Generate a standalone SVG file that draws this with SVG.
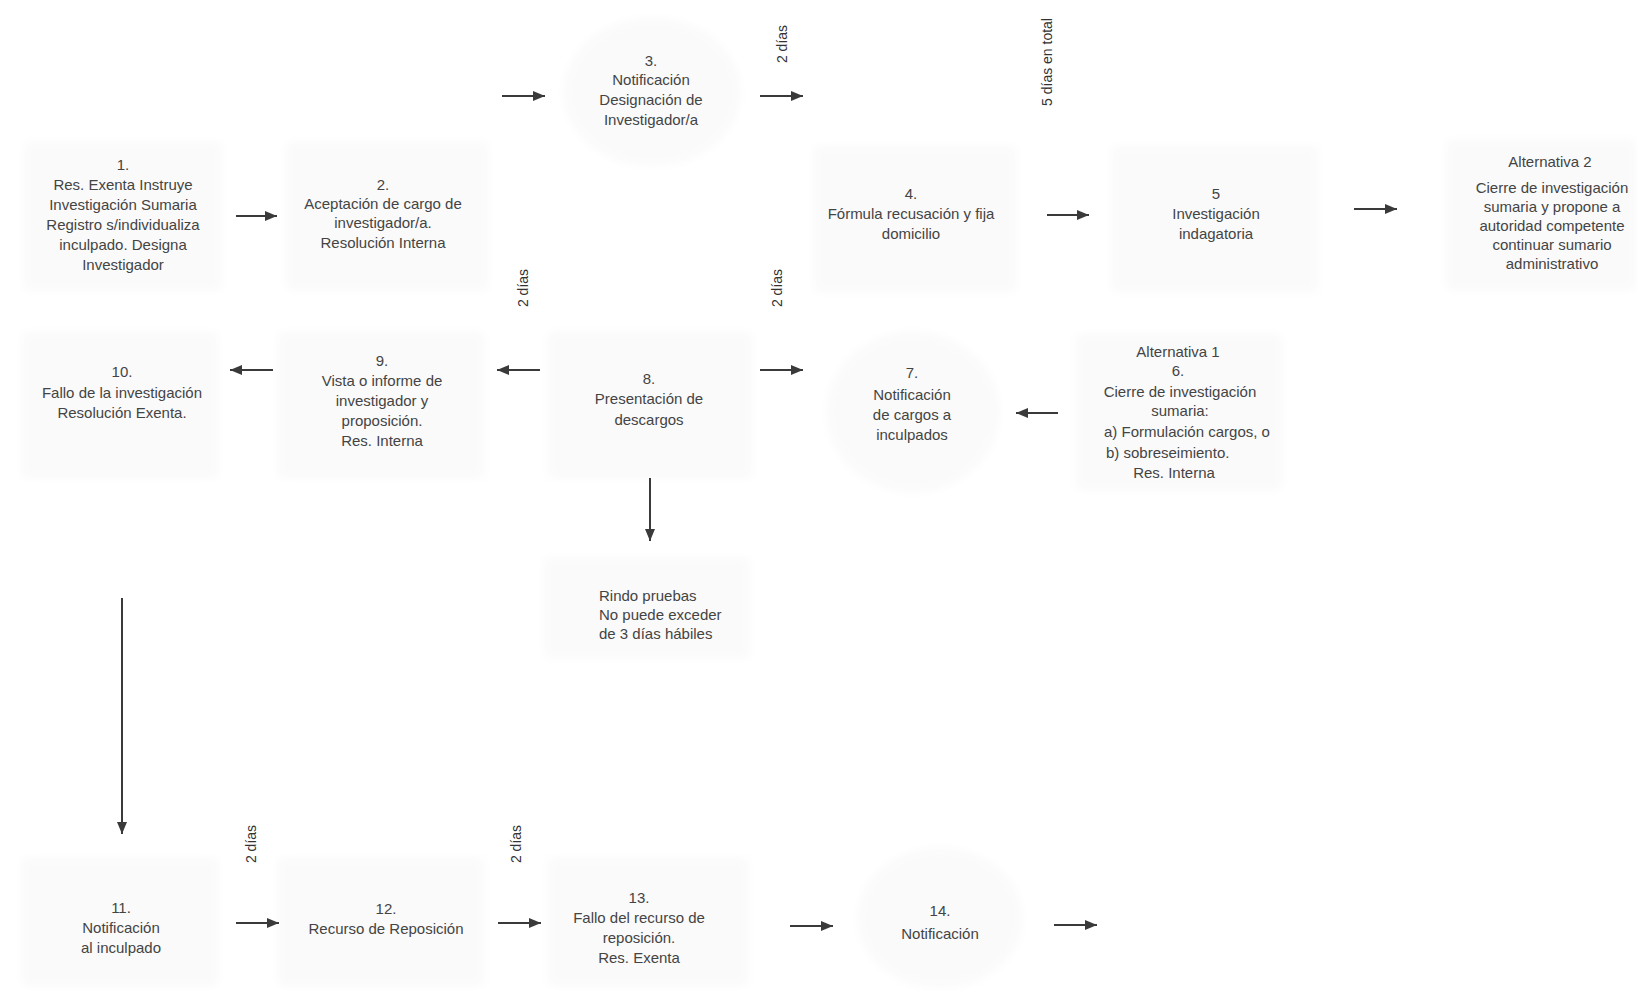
<svg xmlns="http://www.w3.org/2000/svg" width="1637" height="991" viewBox="0 0 1637 991">
<defs>
<style>
.t{font-family:"Liberation Sans",Arial,sans-serif;font-size:15px;fill:#444;text-anchor:middle}
.ts{font-family:"Liberation Sans",Arial,sans-serif;font-size:15px;fill:#444;text-anchor:start}
.v{font-family:"Liberation Sans",Arial,sans-serif;font-size:14px;fill:#333;text-anchor:middle}
.bg{fill:#fafafa;filter:url(#soft)}
.c{stroke:#3a3a3a;stroke-width:2;fill:none;marker-end:url(#ah)}
</style>
<filter id="soft" x="-20%" y="-20%" width="140%" height="140%"><feGaussianBlur stdDeviation="5"/></filter>
<marker id="ah" markerUnits="userSpaceOnUse" markerWidth="12" markerHeight="10" refX="12" refY="5" orient="auto"><path d="M0,0 L12,5 L0,10 z" fill="#3a3a3a"/></marker>
</defs>
<rect width="1637" height="991" fill="#ffffff"/>

<g id="node1"><rect class="bg" x="24" y="142" width="198" height="148"/>
<text class="t" x="123"><tspan x="123" y="170">1.</tspan><tspan x="123" y="190">Res. Exenta Instruye</tspan><tspan x="123" y="210">Investigación Sumaria</tspan><tspan x="123" y="230">Registro s/individualiza</tspan><tspan x="123" y="250">inculpado. Designa</tspan><tspan x="123" y="270">Investigador</tspan></text></g>

<g id="node2"><rect class="bg" x="286" y="142" width="202" height="148"/>
<text class="t"><tspan x="383" y="190">2.</tspan><tspan x="383" y="209">Aceptación de cargo de</tspan><tspan x="383" y="228">investigador/a.</tspan><tspan x="383" y="248">Resolución  Interna</tspan></text></g>

<g id="node3"><ellipse class="bg" cx="652" cy="92" rx="88" ry="74"/>
<text class="t"><tspan x="651" y="66">3.</tspan><tspan x="651" y="85">Notificación</tspan><tspan x="651" y="105">Designación de</tspan><tspan x="651" y="125">Investigador/a</tspan></text></g>

<g id="node4"><rect class="bg" x="814" y="146" width="202" height="146"/>
<text class="t"><tspan x="911" y="199">4.</tspan><tspan x="911" y="219">Fórmula recusación y fija</tspan><tspan x="911" y="239">domicilio</tspan></text></g>

<g id="node5"><rect class="bg" x="1112" y="146" width="206" height="146"/>
<text class="t"><tspan x="1216" y="199">5</tspan><tspan x="1216" y="219">Investigación</tspan><tspan x="1216" y="239">indagatoria</tspan></text></g>

<g id="alt2"><rect class="bg" x="1446" y="140" width="190" height="150"/>
<text class="t"><tspan x="1550" y="167">Alternativa  2</tspan><tspan x="1552" y="193">Cierre de investigación</tspan><tspan x="1552" y="212">sumaria y propone a</tspan><tspan x="1552" y="231">autoridad competente</tspan><tspan x="1552" y="250">continuar sumario</tspan><tspan x="1552" y="269">administrativo</tspan></text></g>

<g id="node10"><rect class="bg" x="22" y="332" width="196" height="146"/>
<text class="t"><tspan x="122" y="377">10.</tspan><tspan x="122" y="398">Fallo de la investigación</tspan><tspan x="122" y="418">Resolución Exenta.</tspan></text></g>

<g id="node9"><rect class="bg" x="278" y="332" width="206" height="146"/>
<text class="t"><tspan x="382" y="366">9.</tspan><tspan x="382" y="386">Vista o informe de</tspan><tspan x="382" y="406">investigador y</tspan><tspan x="382" y="426">proposición.</tspan><tspan x="382" y="446">Res. Interna</tspan></text></g>

<g id="node8"><rect class="bg" x="548" y="332" width="204" height="146"/>
<text class="t"><tspan x="649" y="384">8.</tspan><tspan x="649" y="404">Presentación de</tspan><tspan x="649" y="425">descargos</tspan></text></g>

<g id="node7"><ellipse class="bg" cx="913" cy="412" rx="86" ry="80"/>
<text class="t"><tspan x="912" y="378">7.</tspan><tspan x="912" y="400">Notificación</tspan><tspan x="912" y="420">de cargos a</tspan><tspan x="912" y="440">inculpados</tspan></text></g>

<g id="alt1"><rect class="bg" x="1076" y="334" width="206" height="156"/>
<text class="t"><tspan x="1178" y="357">Alternativa 1</tspan><tspan x="1178" y="376">6.</tspan><tspan x="1180" y="397">Cierre de investigación</tspan><tspan x="1180" y="416">sumaria:</tspan></text>
<text class="ts"><tspan x="1104" y="437">a) Formulación cargos, o</tspan><tspan x="1106" y="458">b) sobreseimiento.</tspan></text>
<text class="t"><tspan x="1174" y="478">Res.  Interna</tspan></text></g>

<g id="pruebas"><rect class="bg" x="544" y="558" width="206" height="100"/>
<text class="ts"><tspan x="599" y="601">Rindo pruebas</tspan><tspan x="599" y="620">No puede exceder</tspan><tspan x="599" y="639">de 3 días hábiles</tspan></text></g>

<g id="node11"><rect class="bg" x="22" y="858" width="196" height="128"/>
<text class="t"><tspan x="121" y="913">11.</tspan><tspan x="121" y="933">Notificación</tspan><tspan x="121" y="953">al inculpado</tspan></text></g>

<g id="node12"><rect class="bg" x="278" y="858" width="206" height="128"/>
<text class="t"><tspan x="386" y="914">12.</tspan><tspan x="386" y="934">Recurso de Reposición</tspan></text></g>

<g id="node13"><rect class="bg" x="548" y="858" width="200" height="128"/>
<text class="t"><tspan x="639" y="903">13.</tspan><tspan x="639" y="923">Fallo del recurso de</tspan><tspan x="639" y="943">reposición.</tspan><tspan x="639" y="963">Res. Exenta</tspan></text></g>

<g id="node14"><ellipse class="bg" cx="940" cy="918" rx="82" ry="70"/>
<text class="t"><tspan x="940" y="916">14.</tspan><tspan x="940" y="939">Notificación</tspan></text></g>

<g id="labels">
<text class="v" transform="translate(787,44) rotate(-90)">2 días</text>
<text class="v" transform="translate(1052,62) rotate(-90)">5 días en total</text>
<text class="v" transform="translate(528,288) rotate(-90)">2 días</text>
<text class="v" transform="translate(782,288) rotate(-90)">2 días</text>
<text class="v" transform="translate(256,844) rotate(-90)">2 días</text>
<text class="v" transform="translate(521,844) rotate(-90)">2 días</text>
</g>

<g id="connectors">
<path class="c" d="M236,216 H277"/>
<path class="c" d="M502,96 H545"/>
<path class="c" d="M760,96 H803"/>
<path class="c" d="M1047,215 H1089"/>
<path class="c" d="M1354,209 H1397"/>
<path class="c" d="M540,370 H497"/>
<path class="c" d="M273,370 H230"/>
<path class="c" d="M760,370 H803"/>
<path class="c" d="M1058,413 H1016"/>
<path class="c" d="M650,478 V541"/>
<path class="c" d="M122,598 V834"/>
<path class="c" d="M236,923 H279"/>
<path class="c" d="M498,923 H541"/>
<path class="c" d="M790,926 H833"/>
<path class="c" d="M1054,925 H1097"/>
</g>
</svg>
